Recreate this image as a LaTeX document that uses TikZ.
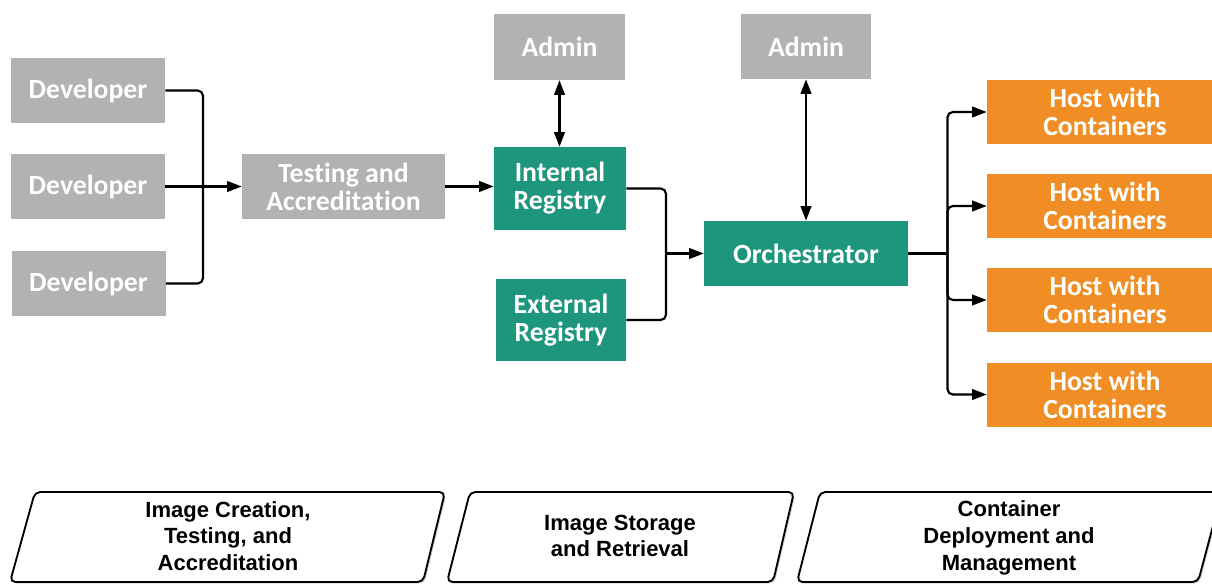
\documentclass[tikz,border=0pt]{standalone}
\usepackage{fontspec}
\setmainfont{Carlito}[Ligatures=NoCommon]
\newfontfamily\labelfont{Liberation Sans}
\usetikzlibrary{arrows.meta,shadows}
\definecolor{boxgray}{RGB}{178,178,178}
\definecolor{teal}{RGB}{29,150,125}
\definecolor{orng}{RGB}{240,141,36}
\begin{document}
\begin{tikzpicture}[x=0.75pt,y=-0.75pt,
  box/.style={inner sep=0pt,align=center,text=white,font=\bfseries\fontsize{20.8}{21}\selectfont},
  graybox/.style={box,fill=boxgray},
  tealbox/.style={box,fill=teal},
  hostbox/.style={box,fill=orng,minimum width=177pt,minimum height=48pt},
  conn/.style={line width=1.6pt,rounded corners=4pt},
  arr/.style={conn,-{Triangle[length=11pt,width=8pt]}},
  darr/.style={conn,{Triangle[length=11pt,width=8pt]}-{Triangle[length=11pt,width=8pt]}},
  phase/.style={draw=black,line width=1.4pt,rounded corners=4pt,fill=white,drop shadow={opacity=0.35,shadow xshift=1.2pt,shadow yshift=-1.2pt}},
  phasetext/.style={align=center,font=\labelfont\bfseries\fontsize{16.5}{20}\selectfont}]
\useasboundingbox (0,0) rectangle (1212,584);

% left column
\node[graybox,minimum width=115.5pt,minimum height=48.75pt] (d1) at (88,90.5) {Developer};
\node[graybox,minimum width=115.5pt,minimum height=48.75pt] (d2) at (88,186.5) {Developer};
\node[graybox,minimum width=115.5pt,minimum height=48.75pt] (d3) at (88.5,283.5) {Developer};
\node[graybox,minimum width=152.25pt,minimum height=48.75pt] (test) at (343.5,186.5) {Testing and\\Accreditation};

% registries
\node[graybox,minimum width=98.25pt,minimum height=49.5pt] (adm1) at (559.5,47) {Admin};
\node[tealbox,minimum width=99pt,minimum height=62.25pt] (int) at (560,188.5) {Internal\\Registry};
\node[tealbox,minimum width=97.5pt,minimum height=61.5pt] (ext) at (561,320) {External\\Registry};

% orchestrator
\node[graybox,minimum width=97.5pt,minimum height=48.75pt] (adm2) at (806,46.5) {Admin};
\node[tealbox,minimum width=153pt,minimum height=48.75pt] (orch) at (806,253.5) {Orchestrator};

% hosts
\node[hostbox] (h1) at (1105,112) {Host with\\Containers};
\node[hostbox] (h2) at (1105,206) {Host with\\Containers};
\node[hostbox] (h3) at (1105,300) {Host with\\Containers};
\node[hostbox] (h4) at (1105,394.5) {Host with\\Containers};

% connectors
\coordinate (b1) at (203,186.5);
\draw[conn] (d1.east) -| (b1);
\draw[conn] (d3.east) -| (b1);
\draw[arr] (d2.east) -- (test.west);
\draw[arr] (test.east) -- (test.east -| int.west);
\draw[darr] (adm1.south) -- (adm1.south |- int.north);

\coordinate (b2) at (666,253.5);
\draw[conn] (int.east) -| (b2);
\draw[conn] (ext.east) -| (b2);
\draw[arr] (b2) -- (orch.west);
\draw[darr] (adm2.south) -- (orch.north);

\coordinate (b3) at (947.5,253.5);
\draw[conn] (orch.east) -- (b3);
\draw[arr] (b3) |- (h1.west);
\draw[arr] (b3) |- (h2.west);
\draw[arr] (b3) |- (h3.west);
\draw[arr] (b3) |- (h4.west);

% phases
\draw[phase] (35,492) -- (445,492) -- (423,582) -- (10,582) -- cycle;
\draw[phase] (470,492) -- (794,492) -- (773,582) -- (447,582) -- cycle;
\draw[phase] (820,492) -- (1222,492) -- (1198,582) -- (797,582) -- cycle;
\node[phasetext] (p1) at (228,536) {Image Creation,\\Testing, and\\Accreditation};
\node[phasetext] (p2) at (620,536) {Image Storage\\and Retrieval};
\node[phasetext] (p3) at (1009,538) {Container\\Deployment and\\Management};
\end{tikzpicture}
\end{document}
